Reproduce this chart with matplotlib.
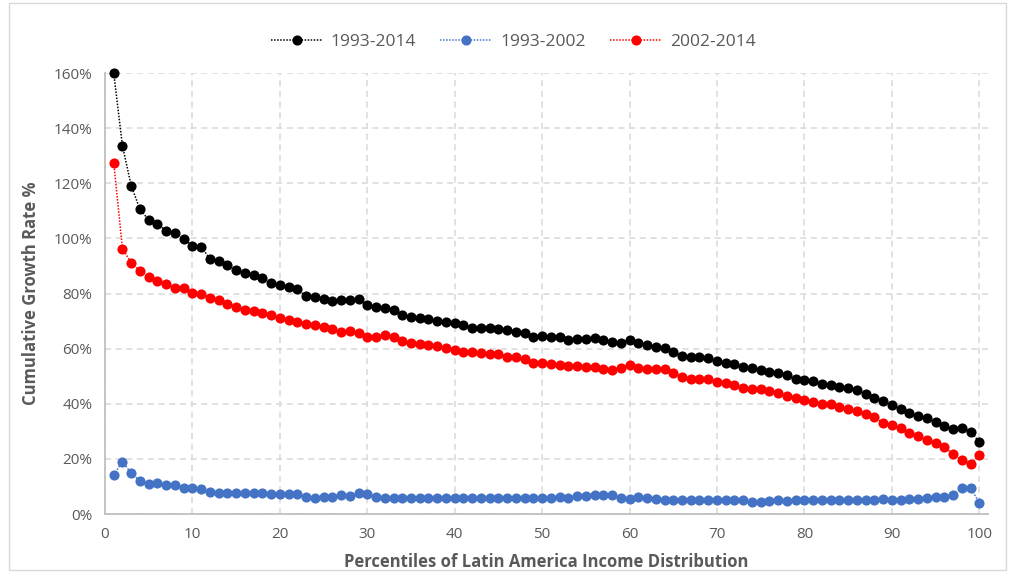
import matplotlib
matplotlib.use("Agg")
import matplotlib.pyplot as plt
from matplotlib.patches import Rectangle
from matplotlib.ticker import FuncFormatter

percentiles = list(range(1, 101))

growth_1993_2014 = [
    159.9, 133.5, 119.1, 110.5, 106.7, 105.2, 102.8, 102.1, 99.7, 97.4,
    97.0, 92.6, 91.8, 90.3, 88.5, 87.6, 86.7, 85.7, 83.9, 83.1,
    82.5, 81.5, 79.1, 78.6, 78.0, 77.2, 77.6, 77.6, 78.1, 75.8,
    75.0, 74.6, 74.0, 72.2, 71.6, 71.0, 70.8, 70.1, 69.5, 69.2,
    68.6, 67.6, 67.6, 67.4, 67.0, 66.8, 66.2, 65.6, 64.3, 64.6,
    64.3, 64.3, 63.1, 63.4, 63.4, 64.0, 63.1, 62.5, 62.1, 63.1,
    61.9, 61.3, 60.7, 60.3, 58.9, 57.3, 57.1, 57.1, 56.5, 55.5,
    54.7, 54.3, 53.5, 53.1, 52.2, 51.6, 51.3, 50.4, 48.9, 48.6,
    48.3, 47.2, 46.8, 46.0, 45.6, 45.0, 43.5, 42.2, 41.0, 39.5,
    38.0, 36.5, 35.6, 34.7, 33.5, 32.1, 30.7, 31.3, 29.9, 26.2,
]

growth_1993_2002 = [
    14.2, 19.0, 14.8, 12.0, 10.9, 11.4, 10.5, 10.5, 9.3, 9.3,
    9.0, 7.9, 7.7, 7.7, 7.7, 7.7, 7.7, 7.7, 7.1, 7.1,
    7.1, 7.1, 6.3, 5.9, 6.3, 6.3, 6.9, 6.6, 7.5, 7.1,
    6.3, 5.7, 5.9, 5.9, 5.9, 5.9, 5.9, 5.9, 5.9, 5.9,
    5.9, 5.9, 5.7, 5.9, 5.9, 5.9, 5.9, 5.7, 5.7, 5.9,
    5.9, 6.3, 5.9, 6.5, 6.5, 6.9, 6.9, 6.9, 5.9, 5.4,
    6.0, 5.7, 5.4, 5.2, 5.1, 5.1, 5.2, 5.2, 4.9, 5.1,
    5.1, 5.2, 5.1, 4.5, 4.2, 4.7, 5.1, 4.7, 5.1, 5.1,
    5.2, 5.1, 5.1, 5.1, 5.2, 5.1, 5.1, 5.2, 5.6, 5.2,
    5.1, 5.4, 5.4, 5.7, 6.1, 6.1, 6.9, 9.5, 9.5, 4.1,
]

growth_2002_2014 = [
    127.5, 96.2, 91.2, 88.3, 86.1, 84.7, 83.3, 82.1, 81.9, 80.3,
    80.0, 78.4, 77.6, 76.2, 75.1, 74.0, 73.7, 72.9, 72.2, 71.1,
    70.4, 69.7, 68.9, 68.6, 68.0, 67.1, 66.2, 66.5, 65.8, 64.3,
    64.3, 64.9, 64.3, 62.8, 61.9, 61.6, 61.3, 61.0, 60.1, 59.5,
    58.9, 58.6, 58.3, 58.1, 58.0, 57.1, 56.9, 56.2, 54.9, 54.7,
    54.4, 54.1, 53.7, 53.7, 53.5, 53.5, 52.5, 52.2, 52.9, 54.1,
    52.9, 52.5, 52.5, 52.5, 51.0, 49.6, 48.9, 48.9, 48.9, 47.8,
    47.4, 46.8, 45.8, 45.4, 45.2, 44.7, 43.8, 42.8, 42.2, 41.4,
    40.8, 39.9, 39.9, 38.9, 38.1, 37.2, 36.2, 35.3, 32.9, 32.3,
    31.1, 29.3, 28.4, 26.9, 25.9, 24.4, 21.7, 19.6, 18.1, 21.4,
]

series = [
    ("1993-2014", growth_1993_2014, "#000000"),
    ("1993-2002", growth_1993_2002, "#4472C4"),
    ("2002-2014", growth_2002_2014, "#FF0000"),
]

x_ticks = [0, 10, 20, 30, 40, 50, 60, 70, 80, 90, 100]
y_ticks = [0, 20, 40, 60, 80, 100, 120, 140, 160]

plt.rcParams['font.family'] = ['Open Sans', 'DejaVu Sans']
text_gray = "#595959"
grid_gray = "#D9D9D9"
axis_gray = "#BFBFBF"

fig = plt.figure(figsize=(10.12, 5.72), dpi=100)
ax = fig.add_axes([105 / 1012, 58 / 572, 883 / 1012, 441 / 572])

for name, vals, col in series:
    ax.plot(percentiles, vals, linestyle=(0, (1, 1)), linewidth=1.1, color=col,
            marker="o", markersize=7.3, markeredgewidth=0, label=name, zorder=3,
            clip_on=False)

ax.set_xlim(0, 101)
ax.set_ylim(0, 160)
ax.set_xticks(x_ticks)
ax.set_yticks(y_ticks)
ax.yaxis.set_major_formatter(FuncFormatter(lambda v, p: f"{int(v)}%"))
ax.tick_params(axis="both", length=0, labelsize=11, labelcolor=text_gray, pad=9)
ax.grid(True, color=grid_gray, linestyle=(0, (4, 3)), linewidth=1.1, zorder=0)
ax.set_axisbelow(True)
for s in ["top", "right"]:
    ax.spines[s].set_visible(False)
for s in ["left", "bottom"]:
    ax.spines[s].set_color(axis_gray)
    ax.spines[s].set_linewidth(1.3)

ax.set_xlabel("Percentiles of Latin America Income Distribution", fontsize=12,
              fontweight="bold", color=text_gray, labelpad=8)
ax.set_ylabel("Cumulative Growth Rate %", fontsize=12, fontweight="bold",
              color=text_gray, labelpad=10)

leg = fig.legend(loc="center", bbox_to_anchor=(0.507, 1 - 42 / 572), ncol=3,
                 frameon=False, fontsize=12.5, handlelength=3.0, columnspacing=1.4,
                 handletextpad=0.45)
for t in leg.get_texts():
    t.set_color(text_gray)

fig.patches.append(Rectangle((9 / 1012, 2 / 572), 997 / 1012, 567 / 572,
                             transform=fig.transFigure, fill=False,
                             edgecolor="#D9D9D9", linewidth=1.0))

fig.savefig("out.png", dpi=100)
